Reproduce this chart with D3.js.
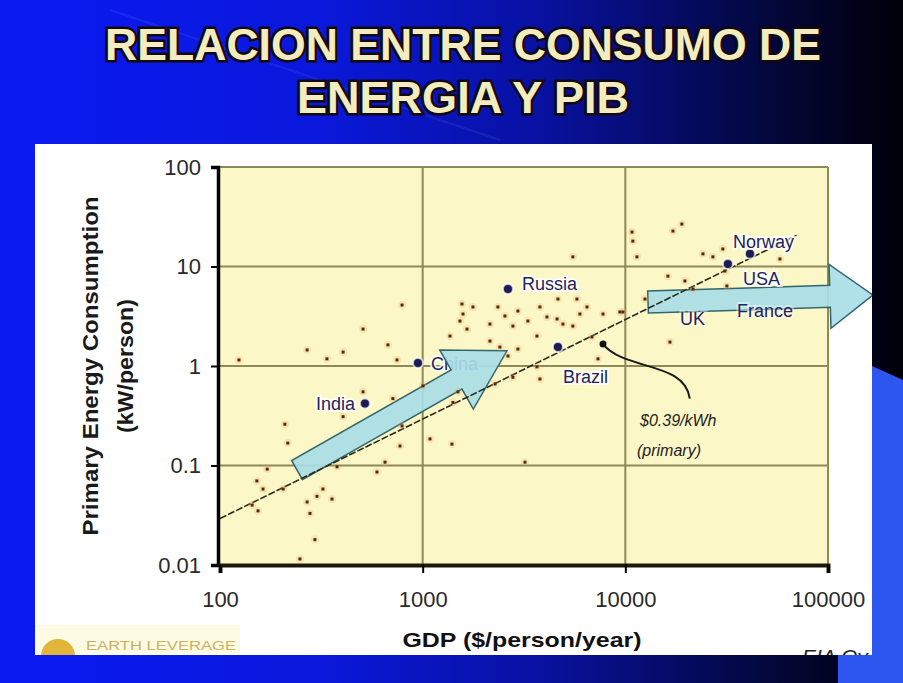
<!DOCTYPE html>
<html>
<head>
<meta charset="utf-8">
<script src="https://cdn.jsdelivr.net/npm/d3@7"></script>
<style>
  body { margin: 0; background: #000; }
  svg { display: block; }
  text { font-family: "Liberation Sans", Arial, sans-serif; }
</style>
</head>
<body>
<div class="chart-container"></div>
<script>
// Data
const titleLines = ['RELACION ENTRE CONSUMO DE', 'ENERGIA Y PIB'];
const xTicks = [100, 1000, 10000, 100000];
const yTicks = [0.01, 0.1, 1, 10, 100];
const xTitle = 'GDP ($/person/year)';
const yTitle = ['Primary Energy Consumption', '(kW/person)'];

// all countries (GDP $/person/year, energy kW/person)
const gdp = [
    124, 269, 337, 405, 508, 674, 747, 791, 508, 713, 405, 209, 216, 791, 773, 652, 595,
    1087, 378, 171, 152, 163, 205, 144, 154, 269, 301, 322, 357, 278, 294, 248, 1003,
    5510, 1563, 1771, 1581, 2351, 2951, 3791, 4650, 5770, 6470, 2547, 3306, 4105, 4604,
    5970, 7760, 9400, 1528, 1655, 2148, 2788, 3664, 4922, 5510, 6840, 1364, 2148, 2405,
    2951, 2636, 7330, 3664, 3791, 2788, 2275, 1494, 1410, 1395, 3198,
    10790, 10890, 17180, 19010, 11410, 16220, 19680, 24150, 27040, 30270, 30980, 57940,
    31700, 12500, 16600, 21580, 9730
];
const energy = [
    1.15, 1.45, 1.18, 1.38, 2.35, 1.63, 1.15, 4.1, 0.55, 0.47, 0.31, 0.26, 0.168, 0.25, 0.157, 0.108, 0.086,
    0.185, 0.097, 0.092, 0.070, 0.058, 0.058, 0.040, 0.035, 0.043, 0.049, 0.058, 0.046, 0.033, 0.018, 0.0115, 0.63,
    12.5, 4.2, 3.92, 3.33, 3.92, 3.57, 3.92, 4.71, 4.71, 3.92, 3.18, 2.83, 3.11, 2.97,
    3.33, 3.33, 3.49, 2.83, 2.35, 2.64, 2.52, 2.0, 2.64, 2.52, 1.96, 2.0, 1.78, 1.55,
    1.48, 1.26, 1.18, 0.98, 0.74, 0.77, 0.66, 0.55, 0.43, 0.164, 0.108,
    22.2, 18.0, 22.7, 26.7, 12.5, 8.0, 7.15, 13.4, 12.5, 15.0, 9.0, 11.9,
    6.37, 4.71, 1.74, 5.94, 3.49
];

// highlighted countries
const countryNames = ['India', 'China', 'Russia', 'Brazil', 'USA', 'Norway'];
const countryGdp = [519, 948, 2636, 4650, 32070, 41210];
const countryEnergy = [0.42, 1.07, 5.94, 1.55, 10.6, 13.4];

// labels whose markers are hidden under the arrow
const hiddenNames = ['UK', 'France'];
const hiddenGdp = [18600, 35600];
const hiddenEnergy = [2.58, 3.11];

// $0.39/kWh (primary) line
const trendGdp = [100, 70000];
const trendEnergy = [0.0293, 20.5];

// development arrows: [tail, tip] as [gdp, energy]
const arrowTails = [[240, 0.090], [12940, 4.40]];
const arrowTips = [[2606, 1.42], [166700, 5.17]];

// curved pointer to the line
const pointerGdp = [7760, 9950, 19680, 20800];
const pointerEnergy = [1.66, 0.89, 1.12, 0.47];

// Layout
const W = 903, H = 683;
const panel = { x: 35, y: 144, w: 837, h: 511 };
const plot = { left: 220, right: 828, top: 167, bottom: 565 };

const x = d3.scaleLog().domain([100, 100000]).range([plot.left, plot.right]);
const y = d3.scaleLog().domain([0.01, 100]).range([plot.bottom, plot.top]);

const svg = d3.select('.chart-container')
    .append('svg')
    .attr('width', W)
    .attr('height', H);

const defs = svg.append('defs');
const bg = defs.append('linearGradient').attr('id', 'bg')
    .attr('x1', 0).attr('x2', 1).attr('y1', 0).attr('y2', 0);
[[0, '#0a1af2'], [0.35, '#0a18dc'], [0.6, '#0811a0'], [0.85, '#03073c'], [1, '#000008']]
    .forEach(([o, c]) => bg.append('stop').attr('offset', o).attr('stop-color', c));

defs.append('clipPath').attr('id', 'panel-clip')
    .append('rect')
    .attr('x', panel.x).attr('y', panel.y)
    .attr('width', panel.w).attr('height', panel.h);

// Background
svg.append('rect').attr('width', W).attr('height', H).attr('fill', 'url(#bg)');
svg.append('line')
    .attr('x1', 110).attr('y1', 10).attr('x2', 500).attr('y2', 140)
    .attr('stroke', '#8fa0ff').attr('stroke-width', 2).attr('opacity', 0.1);
svg.append('polygon')
    .attr('points', '872,366 903,380 903,683 838,683 838,655 872,655')
    .attr('fill', '#2d55f0');

// Title
titleLines.forEach((t, i) => {
    const ty = 60 + i * 53;
    const len = i === 0 ? 716 : 332;
    svg.append('text')
        .attr('x', 463).attr('y', ty)
        .attr('text-anchor', 'middle')
        .attr('font-size', 44).attr('font-weight', 'bold')
        .attr('textLength', len).attr('lengthAdjust', 'spacingAndGlyphs')
        .attr('fill', '#f2ecbe')
        .attr('stroke', '#120a10').attr('stroke-width', 5)
        .attr('paint-order', 'stroke')
        .text(t);
});

// Panel
svg.append('rect')
    .attr('x', panel.x).attr('y', panel.y)
    .attr('width', panel.w).attr('height', panel.h)
    .attr('fill', '#ffffff');

const g = svg.append('g').attr('clip-path', 'url(#panel-clip)');

g.append('rect')
    .attr('x', 35).attr('y', 625).attr('width', 205).attr('height', 30)
    .attr('fill', '#fdfbe4');

g.append('rect')
    .attr('x', plot.left).attr('y', plot.top)
    .attr('width', plot.right - plot.left).attr('height', plot.bottom - plot.top)
    .attr('fill', '#fcf7c6');

// Grid
g.selectAll('.grid-h')
    .data(yTicks.slice(1))
    .enter()
    .append('line')
    .attr('x1', plot.left).attr('x2', plot.right)
    .attr('y1', d => y(d)).attr('y2', d => y(d))
    .attr('stroke', '#8c8a58').attr('stroke-width', 2);

g.selectAll('.grid-v')
    .data(xTicks.slice(1))
    .enter()
    .append('line')
    .attr('x1', d => x(d)).attr('x2', d => x(d))
    .attr('y1', plot.top).attr('y2', plot.bottom)
    .attr('stroke', '#8c8a58').attr('stroke-width', 2);

// China label sits under the arrow
const labelStyle = (sel) => sel
    .attr('font-size', 18)
    .attr('fill', '#23235e')
    .attr('stroke', '#ffffff').attr('stroke-width', 4)
    .attr('stroke-opacity', 0.8)
    .attr('paint-order', 'stroke');

g.append('text')
    .attr('x', x(countryGdp[1]) + 13)
    .attr('y', y(countryEnergy[1]) + 7)
    .call(labelStyle)
    .text(countryNames[1]);

// Arrows
function arrowPath(tail, tip, shaft, headLen, headHalf) {
    const [x0, y0] = [x(tail[0]), y(tail[1])];
    const [x1, y1] = [x(tip[0]), y(tip[1])];
    const len = Math.hypot(x1 - x0, y1 - y0);
    const ux = (x1 - x0) / len, uy = (y1 - y0) / len;
    const nx = -uy, ny = ux;
    const bx = x1 - ux * headLen, by = y1 - uy * headLen;
    const s = shaft / 2;
    const pts = [
        [x0 + nx * s, y0 + ny * s],
        [bx + nx * s, by + ny * s],
        [bx + nx * headHalf, by + ny * headHalf],
        [x1, y1],
        [bx - nx * headHalf, by - ny * headHalf],
        [bx - nx * s, by - ny * s],
        [x0 - nx * s, y0 - ny * s]
    ];
    return 'M' + pts.map(p => p.join(',')).join('L') + 'Z';
}
const arrowShape = [[22, 58, 34], [22, 43, 32]];

g.selectAll('.arrow')
    .data(arrowTails)
    .enter()
    .append('path')
    .attr('class', 'arrow')
    .attr('d', (d, i) => arrowPath(d, arrowTips[i], ...arrowShape[i]))
    .attr('fill', '#a9dde6')
    .attr('fill-opacity', 0.92)
    .attr('stroke', '#33666c')
    .attr('stroke-width', 1.5);

// Trend line
g.append('path')
    .datum(trendGdp.map((d, i) => [d, trendEnergy[i]]))
    .attr('d', d3.line().x(d => x(d[0])).y(d => y(d[1])))
    .attr('fill', 'none')
    .attr('stroke', '#2a2a1a')
    .attr('stroke-width', 1.6)
    .attr('stroke-dasharray', '7,2');

// Scatter
const pts = gdp.map((d, i) => [d, energy[i]]);
g.selectAll('.dot-halo')
    .data(pts)
    .enter()
    .append('circle')
    .attr('cx', d => x(d[0])).attr('cy', d => y(d[1]))
    .attr('r', 4)
    .attr('fill', '#f0a060').attr('fill-opacity', 0.22);

g.selectAll('.dot')
    .data(pts)
    .enter()
    .append('rect')
    .attr('x', d => x(d[0]) - 1.5).attr('y', d => y(d[1]) - 1.5)
    .attr('width', 3).attr('height', 3)
    .attr('fill', '#4a2f16');

// Pointer curve to the line
const pc = pointerGdp.map((d, i) => [x(d), y(pointerEnergy[i])]);
g.append('path')
    .attr('d', `M${pc[0]}C${pc[1]} ${pc[2]} ${pc[3]}`)
    .attr('fill', 'none')
    .attr('stroke', '#1a1a1a')
    .attr('stroke-width', 2);
g.append('circle')
    .attr('cx', pc[0][0]).attr('cy', pc[0][1]).attr('r', 3.5)
    .attr('fill', '#111');

g.append('text')
    .attr('x', 640).attr('y', 426)
    .attr('font-size', 16).attr('font-style', 'italic')
    .attr('fill', '#222')
    .text('$0.39/kWh');
g.append('text')
    .attr('x', 637).attr('y', 456)
    .attr('font-size', 16).attr('font-style', 'italic')
    .attr('fill', '#222')
    .text('(primary)');

// Highlighted countries
const labelDx = [-10, 13, 14, 5, 15, -17];
const labelDy = [7, 7, 1, 36, 21, -6];
const labelAnchor = ['end', 'start', 'start', 'start', 'start', 'start'];

g.selectAll('.country')
    .data(countryNames)
    .enter()
    .append('circle')
    .attr('cx', (d, i) => x(countryGdp[i]))
    .attr('cy', (d, i) => y(countryEnergy[i]))
    .attr('r', 5)
    .attr('fill', '#1c1c52')
    .attr('stroke', '#ffffff').attr('stroke-width', 2).attr('stroke-opacity', 0.7);

g.selectAll('.country-label')
    .data(countryNames)
    .enter()
    .filter((d, i) => i !== 1)
    .append('text')
    .attr('x', d => x(countryGdp[countryNames.indexOf(d)]) + labelDx[countryNames.indexOf(d)])
    .attr('y', d => y(countryEnergy[countryNames.indexOf(d)]) + labelDy[countryNames.indexOf(d)])
    .attr('text-anchor', d => labelAnchor[countryNames.indexOf(d)])
    .call(labelStyle)
    .text(d => d);

g.selectAll('.hidden-label')
    .data(hiddenNames)
    .enter()
    .append('text')
    .attr('x', (d, i) => x(hiddenGdp[i]))
    .attr('y', (d, i) => y(hiddenEnergy[i]))
    .call(labelStyle)
    .attr('stroke-opacity', 0.4)
    .text(d => d);

// Axes
const yAxis = g.append('g')
    .attr('transform', `translate(${plot.left - 2},0)`)
    .call(d3.axisLeft(y).tickValues(yTicks).tickFormat(d => String(d)).tickSize(7).tickPadding(10));
yAxis.select('.domain').attr('stroke', '#000').attr('stroke-width', 3.5);
yAxis.selectAll('.tick line').attr('stroke', '#000').attr('stroke-width', 2);
yAxis.selectAll('.tick text')
    .attr('font-size', 22).attr('fill', '#2a2a2a')
    .attr('font-family', '"Liberation Sans", Arial, sans-serif');

const xAxis = g.append('g')
    .attr('transform', `translate(0,${plot.bottom})`)
    .call(d3.axisBottom(x).tickValues(xTicks).tickFormat(d => String(d)).tickSize(8).tickPadding(18));
xAxis.select('.domain').attr('stroke', '#1a1a0a').attr('stroke-width', 4);
xAxis.selectAll('.tick line').attr('stroke', '#000').attr('stroke-width', 2);
xAxis.selectAll('.tick text')
    .attr('font-size', 22).attr('fill', '#2a2a2a')
    .attr('font-family', '"Liberation Sans", Arial, sans-serif');

// Axis titles
g.append('text')
    .attr('x', 522).attr('y', 647)
    .attr('text-anchor', 'middle')
    .attr('font-size', 21).attr('font-weight', 'bold')
    .attr('textLength', 239).attr('lengthAdjust', 'spacingAndGlyphs')
    .attr('fill', '#111')
    .text(xTitle);

yTitle.forEach((t, i) => {
    g.append('text')
        .attr('transform', `translate(${98 + i * 35},366) rotate(-90)`)
        .attr('text-anchor', 'middle')
        .attr('font-size', 22).attr('font-weight', 'bold')
        .attr('textLength', i === 0 ? 339 : 134).attr('lengthAdjust', 'spacingAndGlyphs')
        .attr('fill', '#1a1a1a')
        .text(t);
});

// Logo and source
g.append('circle')
    .attr('cx', 58).attr('cy', 656).attr('r', 17)
    .attr('fill', '#e2b43a');
g.append('text')
    .attr('x', 86).attr('y', 650)
    .attr('font-size', 13).attr('font-family', '"Liberation Serif", serif')
    .attr('textLength', 150).attr('lengthAdjust', 'spacingAndGlyphs')
    .attr('fill', '#cfb060')
    .text('EARTH LEVERAGE');

g.append('text')
    .attr('x', 802).attr('y', 664)
    .attr('font-size', 21).attr('font-style', 'italic')
    .attr('fill', '#222')
    .text('EIA Ov');
</script>
</body>
</html>
